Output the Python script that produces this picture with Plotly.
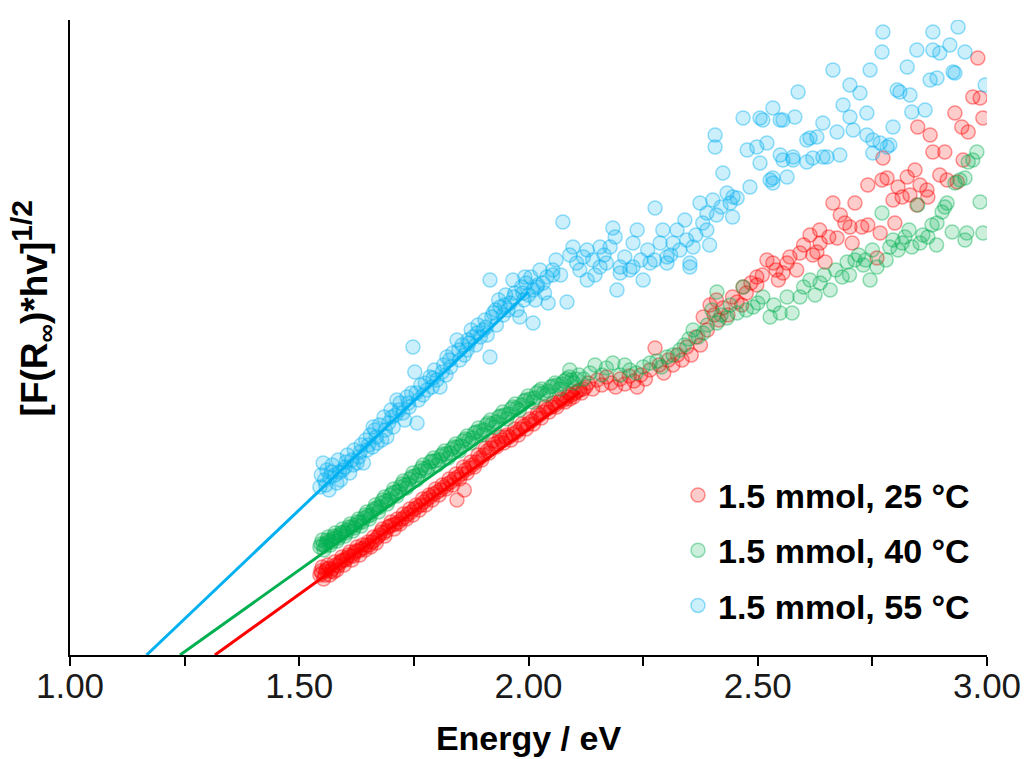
import plotly.graph_objects as go

# ---- data (energy in eV, signal in arbitrary units) ----
series_names = ["1.5 mmol, 25 °C", "1.5 mmol, 40 °C", "1.5 mmol, 55 °C"]
x_title = "Energy / eV"
y_title = "[F(R<sub>∞</sub>)*hv]<sup><span style='font-size:30px'>1/2</span></sup>"

red_points = [
    (1.545,80),(1.547,84),(1.549,82),(1.550,88),(1.553,76),(1.556,80),(1.558,84),(1.560,86),(1.562,90),(1.565,87),
    (1.567,80),(1.570,84),(1.572,86),(1.575,83),(1.577,93),(1.580,90),(1.582,85),(1.585,89),(1.588,92),(1.591,94),
    (1.593,98),(1.596,95),(1.598,90),(1.601,95),(1.604,97),(1.607,100),(1.610,103),(1.612,99),(1.615,95),(1.618,99),
    (1.620,102),(1.623,104),(1.626,108),(1.629,104),(1.632,100),(1.635,106),(1.638,110),(1.641,107),(1.644,105),(1.647,110),
    (1.650,113),(1.653,110),(1.656,108),(1.659,113),(1.662,118),(1.665,115),(1.668,112),(1.671,118),(1.675,120),(1.678,123),
    (1.681,126),(1.684,122),(1.687,119),(1.690,124),(1.694,128),(1.697,129),(1.700,133),(1.704,130),(1.707,126),(1.710,131),
    (1.714,136),(1.717,133),(1.720,131),(1.724,136),(1.727,141),(1.731,138),(1.734,136),(1.737,141),(1.741,146),(1.744,143),
    (1.748,140),(1.751,146),(1.755,150),(1.758,148),(1.762,145),(1.765,150),(1.769,156),(1.772,153),(1.776,150),(1.779,156),
    (1.783,160),(1.786,158),(1.790,155),(1.793,161),(1.797,166),(1.801,163),(1.805,160),(1.808,165),(1.812,170),(1.816,168),
    (1.820,166),(1.823,171),(1.827,176),(1.831,173),(1.835,170),(1.838,176),(1.842,181),(1.844,155),(1.846,178),(1.850,176),
    (1.854,181),(1.858,188),(1.860,165),(1.862,185),(1.866,182),(1.870,187),(1.874,193),(1.878,190),(1.882,188),(1.886,193),
    (1.890,200),(1.894,197),(1.898,195),(1.902,200),(1.906,207),(1.910,204),(1.914,202),(1.918,207),(1.922,214),(1.926,211),
    (1.930,208),(1.934,213),(1.938,218),(1.942,215),(1.946,212),(1.950,218),(1.953,220),(1.958,218),(1.962,215),(1.966,221),
    (1.970,226),(1.974,223),(1.978,220),(1.982,226),(1.986,231),(1.990,229),(1.995,226),(1.999,231),(2.003,236),(2.007,234),
    (2.011,231),(2.016,237),(2.020,242),(2.024,240),(2.028,237),(2.032,243),(2.037,248),(2.041,246),(2.045,243),(2.050,248),
    (2.054,252),(2.058,250),(2.062,248),(2.067,253),(2.071,256),(2.076,255),(2.080,253),(2.085,258),(2.089,261),(2.090,256),
    (2.094,260),(2.098,258),(2.103,262),(2.107,264),(2.112,265),(2.116,262),(2.120,266),(2.125,268),
    (2.130,272),(2.140,266),(2.150,275),(2.160,270),(2.170,278),(2.180,272),(2.190,268),(2.200,276),(2.210,271),(2.220,279),
    (2.230,274),(2.237,268),(2.245,280),(2.255,276),(2.265,285),(2.276,307),(2.285,290),(2.295,282),(2.305,295),(2.315,290),
    (2.325,300),(2.335,295),(2.345,308),(2.355,300),(2.365,318),(2.375,310),(2.381,338),(2.390,325),(2.396,350),(2.405,340),
    (2.410,355),(2.415,335),(2.424,347),(2.435,340),(2.445,358),(2.455,353),(2.465,350),(2.468,368),(2.475,362),(2.485,372),
    (2.498,378),(2.498,370),(2.510,380),(2.520,395),(2.533,392),(2.540,385),(2.545,375),(2.555,382),
    (2.564,392),(2.570,398),(2.585,385),(2.592,402),(2.600,410),(2.614,420),(2.620,400),(2.629,403),(2.635,425),(2.636,412),
    (2.647,393),(2.655,418),(2.664,452),(2.673,417),(2.680,440),(2.690,432),(2.701,428),(2.706,412),(2.712,452),(2.727,428),
    (2.740,470),(2.740,430),(2.760,397),(2.767,422),(2.771,475),(2.773,497),(2.782,477),(2.795,455),(2.799,432),(2.806,468),
    (2.815,458),(2.826,478),(2.832,460),(2.843,485),(2.847,450),(2.849,528),(2.854,470),(2.869,465),(2.871,458),(2.876,520),
    (2.882,503),(2.897,480),(2.908,503),(2.913,475),(2.930,542),(2.935,473),(2.945,528),(2.948,495),(2.959,523),(2.969,558),
    (2.980,597),(2.985,557),(2.991,537),
]

green_points = [
    (1.545,108),(1.547,111),(1.550,115),(1.552,110),(1.554,105),(1.557,109),(1.559,112),(1.561,115),(1.563,118),(1.566,114),
    (1.568,110),(1.571,113),(1.573,116),(1.576,119),(1.578,122),(1.581,118),(1.583,114),(1.586,117),(1.589,120),(1.591,122),
    (1.594,126),(1.597,123),(1.600,119),(1.602,122),(1.605,125),(1.608,128),(1.611,131),(1.614,128),(1.617,124),(1.620,127),
    (1.623,130),(1.626,133),(1.629,136),(1.632,133),(1.635,129),(1.638,133),(1.641,137),(1.644,140),(1.647,143),(1.650,139),
    (1.653,136),(1.656,140),(1.660,144),(1.663,146),(1.666,150),(1.669,147),(1.673,143),(1.676,148),(1.679,152),(1.682,155),
    (1.686,158),(1.689,154),(1.692,151),(1.696,155),(1.699,160),(1.703,162),(1.706,166),(1.710,163),(1.713,159),(1.717,164),
    (1.720,168),(1.724,171),(1.727,174),(1.731,170),(1.734,167),(1.738,171),(1.741,176),(1.745,178),(1.748,182),(1.752,179),
    (1.756,175),(1.760,180),(1.763,184),(1.767,187),(1.770,190),(1.774,186),(1.778,184),(1.782,188),(1.786,193),(1.790,194),
    (1.793,197),(1.797,194),(1.801,190),(1.805,195),(1.809,199),(1.813,201),(1.817,204),(1.821,201),(1.825,197),(1.829,202),
    (1.833,206),(1.837,208),(1.841,211),(1.845,208),(1.849,204),(1.853,209),(1.857,214),(1.862,216),(1.866,219),(1.870,215),
    (1.874,212),(1.878,217),(1.882,222),(1.886,223),(1.891,227),(1.895,224),(1.899,220),(1.903,225),(1.908,230),(1.912,232),
    (1.917,235),(1.921,231),(1.926,228),(1.930,233),(1.935,238),(1.939,239),(1.944,243),(1.948,240),(1.953,236),(1.957,241),
    (1.962,246),(1.966,248),(1.971,251),(1.975,247),(1.980,245),(1.985,250),(1.990,254),(1.994,255),(1.999,259),(2.004,256),
    (2.009,253),(2.013,257),(2.018,262),(2.023,264),(2.028,266),(2.033,262),(2.038,260),(2.043,264),(2.048,268),(2.053,269),
    (2.058,272),(2.063,270),(2.068,266),(2.073,271),(2.078,274),(2.083,276),(2.089,278),(2.094,275),(2.099,272),(2.104,276),
    (2.110,280),
    (2.090,285),(2.120,276),(2.134,282),(2.145,290),(2.160,280),(2.170,287),(2.184,292),(2.200,280),(2.210,290),(2.221,285),
    (2.235,282),(2.250,288),(2.265,292),(2.280,294),(2.290,288),(2.302,298),(2.315,300),(2.330,305),(2.340,310),(2.350,316),
    (2.359,325),(2.370,318),(2.381,322),(2.390,330),(2.400,345),(2.411,363),(2.411,332),(2.420,340),(2.433,337),(2.440,350),
    (2.455,342),(2.468,368),(2.475,345),(2.490,348),(2.500,352),(2.511,358),(2.527,338),(2.535,350),(2.549,342),(2.564,358),
    (2.575,342),(2.592,358),(2.600,368),(2.614,375),(2.625,360),(2.636,372),(2.645,380),(2.658,365),(2.670,385),(2.684,378),
    (2.695,393),(2.700,380),(2.712,395),(2.720,400),(2.730,390),(2.735,395),(2.745,375),(2.750,405),(2.760,388),(2.771,442),
    (2.780,395),(2.788,408),(2.795,415),(2.806,405),(2.815,412),(2.821,418),(2.830,425),(2.836,408),(2.849,450),(2.854,412),
    (2.860,420),(2.871,418),(2.880,430),(2.890,410),(2.891,432),(2.902,443),(2.908,448),(2.913,452),(2.924,423),(2.930,472),
    (2.941,475),(2.952,415),(2.952,477),(2.956,422),(2.959,493),(2.969,495),(2.978,503),(2.985,453),(2.991,422),
]

blue_points = [
    (1.545,168),(1.548,180),(1.552,192),(1.555,175),(1.558,170),(1.560,185),(1.565,165),(1.567,178),(1.570,183),(1.572,190),
    (1.578,180),(1.582,172),(1.585,195),(1.588,183),(1.590,175),(1.595,185),(1.600,188),(1.602,193),(1.605,200),(1.610,182),
    (1.615,195),(1.618,190),(1.620,205),(1.626,192),(1.630,198),(1.633,203),(1.635,210),(1.640,192),(1.645,215),(1.648,205),
    (1.651,210),(1.655,220),(1.660,208),(1.661,228),(1.665,225),(1.668,218),(1.670,212),(1.675,230),(1.680,215),(1.685,238),
    (1.688,225),(1.691,218),(1.695,232),(1.700,245),(1.702,238),(1.705,228),(1.710,240),(1.713,255),(1.718,245),(1.720,252),
    (1.726,242),(1.730,235),(1.735,258),(1.738,252),(1.740,248),(1.745,262),(1.748,308),(1.752,283),(1.755,262),(1.757,232),
    (1.760,255),(1.765,270),(1.770,260),(1.775,272),(1.779,265),(1.785,278),(1.790,268),(1.792,277),(1.795,285),(1.800,275),
    (1.807,268),(1.812,283),(1.815,290),(1.820,280),(1.822,298),(1.828,295),(1.830,288),(1.835,302),(1.844,315),(1.848,305),
    (1.850,295),(1.855,310),(1.860,300),(1.866,305),(1.868,315),(1.870,312),(1.875,325),(1.879,318),(1.885,310),(1.888,322),
    (1.890,330),(1.895,318),(1.901,325),(1.905,335),(1.908,328),(1.910,320),(1.916,298),(1.916,375),(1.920,338),(1.923,342),
    (1.928,345),(1.930,330),(1.935,355),(1.938,348),(1.945,340),(1.948,350),(1.950,360),(1.955,345),(1.960,352),(1.966,375),
    (1.968,358),(1.970,362),(1.975,345),(1.981,338),(1.985,368),(1.988,362),(1.990,355),(1.992,378),(1.995,372),(2.000,360),
    (2.005,378),(2.010,332),(2.010,365),(2.015,355),(2.018,368),(2.020,370),(2.025,385),(2.032,372),(2.035,362),(2.040,378),
    (2.043,352),
    (2.053,380),(2.053,385),(2.060,395),(2.070,380),(2.075,433),(2.084,353),(2.090,400),(2.097,408),(2.105,392),(2.112,385),
    (2.120,398),(2.128,375),(2.128,405),(2.140,395),(2.145,380),(2.156,388),(2.156,408),(2.165,400),(2.170,392),(2.178,408),
    (2.184,427),(2.189,418),(2.193,365),(2.200,388),(2.200,382),(2.210,398),(2.221,385),(2.228,412),(2.228,388),(2.237,425),
    (2.245,395),(2.250,375),(2.260,405),(2.265,392),(2.275,395),(2.276,447),(2.287,412),(2.293,425),(2.302,392),(2.302,398),
    (2.310,400),(2.315,412),(2.324,425),(2.330,405),(2.341,435),(2.345,415),(2.352,392),(2.352,388),(2.359,408),(2.365,420),
    (2.374,452),(2.380,432),(2.389,442),(2.389,425),(2.395,410),(2.402,455),(2.407,520),(2.407,508),(2.410,440),(2.420,448),
    (2.424,482),(2.433,462),(2.440,452),(2.445,438),(2.446,458),(2.455,457),
    (2.468,537),(2.477,505),(2.483,468),(2.498,508),(2.505,537),(2.505,492),(2.511,535),(2.520,512),(2.527,475),(2.533,547),
    (2.533,472),(2.533,477),(2.549,535),(2.549,500),(2.555,535),(2.555,495),(2.564,478),(2.577,498),(2.577,495),(2.581,538),
    (2.588,563),(2.607,515),(2.607,493),(2.614,517),(2.620,497),(2.629,518),(2.642,532),(2.642,498),(2.651,498),(2.664,585),
    (2.673,523),(2.679,500),(2.686,550),(2.701,570),(2.701,538),(2.708,525),(2.723,562),(2.738,542),(2.738,520),(2.745,585),
    (2.751,515),(2.751,502),(2.767,512),(2.771,603),(2.773,623),(2.782,508),(2.788,510),(2.795,528),(2.804,565),(2.810,563),
    (2.826,588),(2.832,560),(2.836,543),(2.847,605),(2.865,545),(2.876,575),(2.882,623),(2.882,605),(2.891,577),(2.897,602),
    (2.919,610),(2.926,583),(2.930,582),(2.937,628),(2.952,603),(2.996,570),
]

# linear (Tauc) fits: endpoints
red_fit_energy = [1.316, 2.112]
red_fit_signal = [0, 263]
green_fit_energy = [1.240, 2.014]
green_fit_signal = [0, 253]
blue_fit_energy = [1.167, 2.000]
blue_fit_signal = [0, 363]

x_tick_values = [1.00, 1.25, 1.50, 1.75, 2.00, 2.25, 2.50, 2.75, 3.00]
x_tick_labels = ["1.00", "", "1.50", "", "2.00", "", "2.50", "", "3.00"]

# ---- styling ----
FONT = "Liberation Sans, Arial, sans-serif"
colors = [(255, 0, 0), (0, 176, 80), (0, 176, 240)]
all_points = [red_points, green_points, blue_points]
fits = [(red_fit_energy, red_fit_signal), (green_fit_energy, green_fit_signal),
        (blue_fit_energy, blue_fit_signal)]

fig = go.Figure()
for i, (pts, (r, g, b), name) in enumerate(zip(all_points, colors, series_names)):
    xs = [p[0] for p in pts]
    ys = [p[1] for p in pts]
    fig.add_trace(go.Scatter(
        x=xs, y=ys, mode="markers", name=f"<b>{name}</b>",
        legendgroup=f"g{i}",
        marker=dict(symbol="circle", size=14,
                    color=f"rgba({r},{g},{b},0.2)",
                    line=dict(color=f"rgba({r},{g},{b},0.42)", width=1.5)),
    ))
for (fx, fy), (r, g, b) in zip(fits, colors):
    fig.add_trace(go.Scatter(
        x=fx, y=fy, mode="lines", showlegend=False,
        line=dict(color=f"rgb({r},{g},{b})", width=3),
    ))

fig.update_layout(
    width=1025, height=759,
    margin=dict(l=70, r=38, t=20, b=104),
    paper_bgcolor="white", plot_bgcolor="white",
    font=dict(family=FONT, color="#000000"),
    showlegend=True,
    legend=dict(x=0.663, y=0.297, xanchor="left", yanchor="top",
                font=dict(size=34, family=FONT, color="#000000"),
                bgcolor="rgba(0,0,0,0)", traceorder="grouped",
                tracegroupgap=8, itemwidth=30),
    xaxis=dict(range=[1, 3], tickvals=x_tick_values, ticktext=x_tick_labels,
               automargin=False,
               showline=True, linecolor="black", linewidth=1.5,
               ticks="outside", ticklen=9, tickwidth=1.5, tickcolor="black",
               ticklabelstandoff=-10,
               tickfont=dict(size=35, family=FONT, color="#1a1a1a"),
               showgrid=False, zeroline=False,
               title=dict(text=f"<b>{x_title}</b>", font=dict(size=34, family=FONT),
                          standoff=22)),
    yaxis=dict(range=[0, 635], showline=True, linecolor="black", linewidth=1.5,
               automargin=False,
               showticklabels=False, ticks="", showgrid=False, zeroline=False),
    annotations=[dict(text=f"<b>{y_title}</b>", textangle=-90,
                      xref="paper", yref="paper", x=-0.0413, y=0.546,
                      xanchor="center", yanchor="middle", showarrow=False,
                      font=dict(size=37, family=FONT, color="#000000"))],
)

fig.write_html("out.html")
